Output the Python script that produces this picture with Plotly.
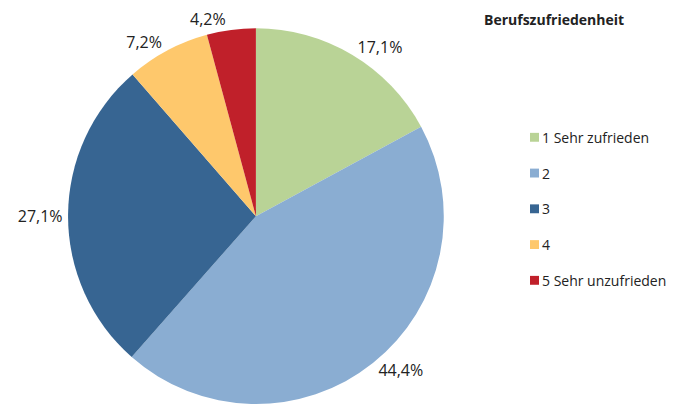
import plotly.graph_objects as go

categories = ["1 Sehr zufrieden", "2", "3", "4", "5 Sehr unzufrieden"]
values = [17.1, 44.4, 27.1, 7.2, 4.2]
colors = ["#B9D396", "#8AADD2", "#376592", "#FEC86C", "#C0202A"]
title_text = "Berufszufriedenheit"

font_family = "Open Sans, Lato, sans-serif"
W, H = 687, 409

fig = go.Figure(go.Pie(
    labels=categories,
    values=values,
    sort=False,
    direction="clockwise",
    rotation=0,
    marker=dict(colors=colors, line=dict(width=0)),
    textposition="outside",
    texttemplate="%{percent:.1%}",
    textfont=dict(size=16, color="#222222", family=font_family),
    domain=dict(x=[0.096, 0.649], y=[0.0, 0.93]),
    showlegend=False,
    hoverinfo="label+percent",
))

# legend drawn as swatches + text (layout only)
shapes = []
annotations = [dict(text="<b>" + title_text + "</b>", xref="paper", yref="paper",
                    x=482 / W, xanchor="left", y=1 - 20 / H, yanchor="middle",
                    showarrow=False,
                    font=dict(size=14, color="#222222", family=font_family))]
for i, (cat, col) in enumerate(zip(categories, colors)):
    yc = 139 + 36.2 * i
    shapes.append(dict(type="rect", xref="paper", yref="paper",
                       x0=530 / W, x1=539 / W, y0=1 - (yc + 4.5) / H, y1=1 - (yc - 4.5) / H,
                       fillcolor=col, line=dict(width=0)))
    annotations.append(dict(text=cat, xref="paper", yref="paper",
                            x=540 / W, xanchor="left", y=1 - yc / H, yanchor="middle",
                            showarrow=False,
                            font=dict(size=14, color="#222222", family=font_family)))

fig.update_layout(
    width=W, height=H,
    margin=dict(l=0, r=0, t=0, b=0),
    paper_bgcolor="white",
    separators=",.",
    font=dict(family=font_family, size=14, color="#222222"),
    shapes=shapes,
    annotations=annotations,
)

fig.write_html("out.html", config={"displayModeBar": False},
               post_script="document.body.style.margin='0';")
